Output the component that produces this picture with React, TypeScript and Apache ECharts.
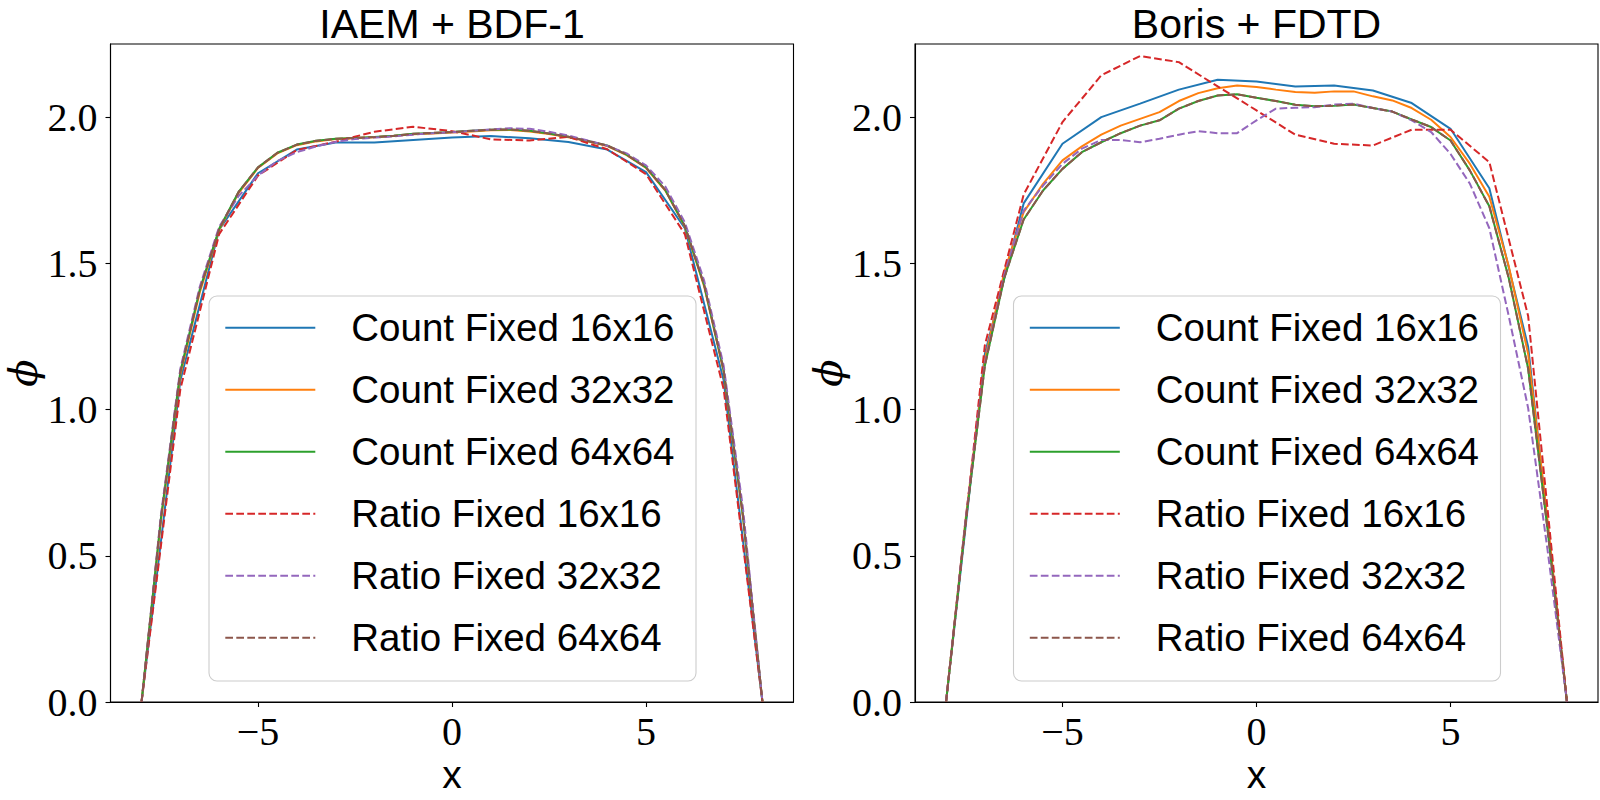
import React, { useEffect, useRef } from "react";
import * as echarts from "echarts";

const SERIES_NAMES = [
  "Count Fixed 16x16",
  "Count Fixed 32x32",
  "Count Fixed 64x64",
  "Ratio Fixed 16x16",
  "Ratio Fixed 32x32",
  "Ratio Fixed 64x64",
];
const COLORS = ["#1f77b4", "#ff7f0e", "#2ca02c", "#d62728", "#9467bd", "#8c564b"];
const DASHED = [false, false, false, true, true, true];

const PANEL_TITLES = ["IAEM + BDF-1", "Boris + FDTD"];
const X_TICKS = [-5, 0, 5];
const Y_TICKS = [0, 0.5, 1.0, 1.5, 2.0];

// grid coordinates (16x16 -> unit spacing, 32x32 and 64x64 read at half spacing)
const X_COARSE = [-8, -7, -6, -5, -4, -3, -2, -1, 0, 1, 2, 3, 4, 5, 6, 7, 8];
const X_FINE = [
  -8, -7.5, -7, -6.5, -6, -5.5, -5, -4.5, -4, -3.5, -3, -2.5, -2, -1.5, -1, -0.5, 0,
  0.5, 1, 1.5, 2, 2.5, 3, 3.5, 4, 4.5, 5, 5.5, 6, 6.5, 7, 7.5, 8,
];

// ---- IAEM + BDF-1 ----
const L_COUNT16 = [0, 1.10, 1.615, 1.808, 1.889, 1.913, 1.913, 1.922, 1.93, 1.935, 1.928, 1.915, 1.889, 1.812, 1.62, 1.10, 0];
const L_COUNT32 = [
  0, 0.62, 1.12, 1.40, 1.615, 1.74, 1.826, 1.876, 1.904, 1.917, 1.925, 1.928, 1.931, 1.935, 1.941, 1.944, 1.947,
  1.951, 1.955, 1.956, 1.951, 1.942, 1.931, 1.917, 1.901, 1.87, 1.826, 1.748, 1.625, 1.42, 1.13, 0.63, 0,
];
const L_COUNT64 = [
  0, 0.63, 1.13, 1.41, 1.618, 1.744, 1.828, 1.878, 1.906, 1.919, 1.926, 1.929, 1.932, 1.936, 1.943, 1.946, 1.949,
  1.953, 1.957, 1.958, 1.953, 1.944, 1.933, 1.918, 1.903, 1.872, 1.828, 1.75, 1.628, 1.425, 1.135, 0.635, 0,
];
const L_RATIO16 = [0, 1.07, 1.60, 1.80, 1.887, 1.916, 1.95, 1.967, 1.952, 1.924, 1.92, 1.932, 1.89, 1.805, 1.60, 1.07, 0];
const L_RATIO32 = [
  0, 0.64, 1.14, 1.42, 1.625, 1.73, 1.80, 1.85, 1.88, 1.90, 1.915, 1.925, 1.93, 1.934, 1.94, 1.945, 1.948,
  1.953, 1.958, 1.962, 1.96, 1.95, 1.937, 1.92, 1.902, 1.876, 1.835, 1.762, 1.64, 1.44, 1.15, 0.66, 0,
];
const L_RATIO64 = [
  0, 0.63, 1.13, 1.41, 1.618, 1.744, 1.828, 1.878, 1.906, 1.919, 1.926, 1.929, 1.932, 1.936, 1.943, 1.946, 1.949,
  1.953, 1.957, 1.958, 1.953, 1.944, 1.933, 1.918, 1.903, 1.872, 1.828, 1.75, 1.628, 1.425, 1.135, 0.635, 0,
];

// ---- Boris + FDTD ----
const R_COUNT16 = [0, 1.19, 1.705, 1.909, 2.0, 2.046, 2.094, 2.128, 2.122, 2.105, 2.108, 2.091, 2.048, 1.96, 1.757, 1.215, 0];
const R_COUNT32 = [
  0, 0.62, 1.17, 1.47, 1.675, 1.772, 1.852, 1.90, 1.94, 1.971, 1.994, 2.017, 2.055, 2.082, 2.099, 2.108, 2.103,
  2.094, 2.086, 2.083, 2.088, 2.088, 2.071, 2.057, 2.031, 1.991, 1.932, 1.84, 1.728, 1.49, 1.19, 0.62, 0,
];
const R_COUNT64 = [
  0, 0.61, 1.15, 1.45, 1.65, 1.749, 1.823, 1.88, 1.914, 1.945, 1.971, 1.989, 2.029, 2.055, 2.074, 2.078, 2.066,
  2.055, 2.042, 2.037, 2.039, 2.043, 2.031, 2.019, 1.992, 1.966, 1.92, 1.817, 1.695, 1.45, 1.14, 0.59, 0,
];
const R_RATIO16 = [0, 1.22, 1.735, 1.983, 2.143, 2.209, 2.188, 2.105, 2.023, 1.94, 1.909, 1.903, 1.957, 1.957, 1.846, 1.32, 0];
const R_RATIO32 = [
  0, 0.62, 1.16, 1.46, 1.68, 1.766, 1.84, 1.892, 1.922, 1.922, 1.914, 1.926, 1.94, 1.952, 1.945, 1.945, 1.989,
  2.029, 2.032, 2.034, 2.043, 2.046, 2.031, 2.019, 1.989, 1.949, 1.874, 1.772, 1.62, 1.32, 1.005, 0.52, 0,
];
const R_RATIO64 = [
  0, 0.61, 1.15, 1.45, 1.65, 1.749, 1.823, 1.88, 1.914, 1.945, 1.971, 1.989, 2.029, 2.055, 2.074, 2.078, 2.066,
  2.055, 2.042, 2.037, 2.039, 2.043, 2.031, 2.019, 1.992, 1.966, 1.92, 1.817, 1.695, 1.45, 1.14, 0.59, 0,
];

const PANEL_DATA = [
  [L_COUNT16, L_COUNT32, L_COUNT64, L_RATIO16, L_RATIO32, L_RATIO64],
  [R_COUNT16, R_COUNT32, R_COUNT64, R_RATIO16, R_RATIO32, R_RATIO64],
];
const SERIES_X = [X_COARSE, X_FINE, X_FINE, X_COARSE, X_FINE, X_FINE];

// layout
const GRID_LEFTS = [110.5, 915];
const GRID_TOP = 44;
const GRID_W = 683;
const GRID_H = 658;
const LEG_OFFSET = 98.5;
const LEG_TOP = 296;
const LEG_W = 487;
const LEG_H = 385;

const SERIF = "'Liberation Serif', 'DejaVu Serif', serif";
const SANS = "'Liberation Sans', Arial, sans-serif";

function fmtNum(v: number): string {
  return v < 0 ? "\u2212" + Math.abs(v) : String(v);
}

function buildOption() {
  const grid = GRID_LEFTS.map((l) => ({
    left: l,
    top: GRID_TOP,
    width: GRID_W,
    height: GRID_H,
    show: true,
    borderColor: "#000",
    borderWidth: 1.1,
    backgroundColor: "transparent",
    containLabel: false,
  }));
  const axisCommon = {
    axisLine: { show: true, onZero: false, lineStyle: { color: "#000", width: 1.1 } },
    axisTick: { show: true, inside: false, length: 5, lineStyle: { color: "#000", width: 1.1 } },
    splitLine: { show: false },
  };
  const xAxis = GRID_LEFTS.map((_, i) => ({
    type: "value",
    gridIndex: i,
    min: -8.8,
    max: 8.8,
    ...axisCommon,
    axisTick: { ...axisCommon.axisTick, customValues: X_TICKS },
    axisLabel: {
      customValues: X_TICKS,
      formatter: (v: number) => fmtNum(v),
      fontFamily: SERIF,
      fontSize: 40,
      color: "#000",
      margin: 9,
    },
  }));
  const yAxis = GRID_LEFTS.map((_, i) => ({
    type: "value",
    gridIndex: i,
    min: 0,
    max: 2.25,
    ...axisCommon,
    axisTick: { ...axisCommon.axisTick, customValues: Y_TICKS },
    axisLabel: {
      customValues: Y_TICKS,
      formatter: (v: number) => v.toFixed(1),
      fontFamily: SERIF,
      fontSize: 40,
      color: "#000",
      margin: 13,
    },
  }));

  const series: any[] = [];
  PANEL_DATA.forEach((panel, p) => {
    panel.forEach((ys, s) => {
      const xs = SERIES_X[s];
      series.push({
        type: "line",
        name: SERIES_NAMES[s],
        xAxisIndex: p,
        yAxisIndex: p,
        symbol: "none",
        showSymbol: false,
        smooth: false,
        silent: true,
        data: xs.map((x, i) => [x, ys[i]]),
        lineStyle: {
          color: COLORS[s],
          width: 2,
          type: DASHED[s] ? [7.7, 3.3] : "solid",
          cap: "butt",
        },
        itemStyle: { color: COLORS[s] },
        z: 2,
      });
    });
  });

  const legend = GRID_LEFTS.map((l) => ({
    orient: "vertical",
    left: l + LEG_OFFSET + 15.3,
    top: LEG_TOP + 11.7,
    padding: 0,
    itemGap: 22,
    itemWidth: 90,
    itemHeight: 14,
    selectedMode: false,
    data: SERIES_NAMES,
    itemStyle: { opacity: 0 },
    textStyle: {
      fontFamily: SANS,
      fontSize: 38.5,
      color: "#000",
      lineHeight: 40,
      padding: [0, 0, 0, 31],
    },
    z: 20,
  }));

  const graphic: any[] = [];
  GRID_LEFTS.forEach((l, i) => {
    const cx = l + GRID_W / 2;
    graphic.push({
      type: "rect",
      z: 10,
      shape: { x: l + LEG_OFFSET, y: LEG_TOP, width: LEG_W, height: LEG_H, r: 8 },
      style: { fill: "rgba(255,255,255,0.8)", stroke: "#cccccc", lineWidth: 1.1 },
    });
    graphic.push({
      type: "text",
      z: 10,
      x: cx,
      y: 24,
      style: {
        text: PANEL_TITLES[i],
        font: `41px ${SANS}`,
        lineHeight: 42,
        fill: "#000",
        textAlign: "center",
        align: "center",
        textVerticalAlign: "middle",
        verticalAlign: "middle",
      },
    });
    graphic.push({
      type: "text",
      z: 10,
      x: cx,
      y: 774,
      style: {
        text: "x",
        font: `39px ${SANS}`,
        fill: "#000",
        textAlign: "center",
        align: "center",
        textVerticalAlign: "middle",
        verticalAlign: "middle",
      },
    });
    graphic.push({
      type: "text",
      z: 10,
      x: l - 87.5,
      y: GRID_TOP + GRID_H / 2,
      rotation: Math.PI / 2,
      style: {
        text: "\u03d5",
        font: `italic 40px 'DejaVu Serif', serif`,
        fill: "#000",
        textAlign: "center",
        align: "center",
        textVerticalAlign: "middle",
        verticalAlign: "middle",
      },
    });
  });

  return {
    animation: false,
    backgroundColor: "#ffffff",
    grid,
    xAxis,
    yAxis,
    legend,
    series,
    graphic,
  };
}

export default function App() {
  const ref = useRef<HTMLDivElement>(null);
  useEffect(() => {
    if (!ref.current) return;
    const chart = echarts.init(ref.current, null, { renderer: "svg" });
    chart.setOption(buildOption() as any);
    return () => chart.dispose();
  }, []);
  return (
    <div
      ref={ref}
      style={{ position: "fixed", left: 0, top: 0, width: 1600, height: 800, background: "#fff" }}
    />
  );
}
